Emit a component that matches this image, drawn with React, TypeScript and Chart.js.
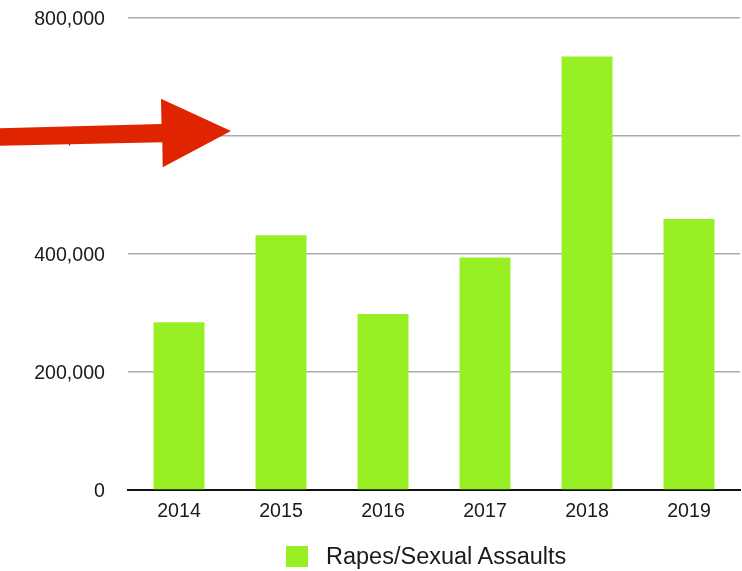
import React, { useEffect, useRef } from "react";
import { Chart, registerables } from "chart.js";

Chart.register(...registerables);

const categories = ["2014", "2015", "2016", "2017", "2018", "2019"];
const seriesLabel = "Rapes/Sexual Assaults";
const values = [284350, 431840, 298410, 393980, 734630, 459310];
const yTicks = [0, 200000, 400000, 600000, 800000];

const FONT = "'Liberation Sans', Arial, Helvetica, sans-serif";
const BAR_COLOR = "#98f024";

const arrowPlugin = {
  id: "redArrow",
  afterDraw(chart: any) {
    const ctx = chart.ctx;
    ctx.save();
    ctx.fillStyle = "#e02400";
    ctx.beginPath();
    ctx.moveTo(0, 128.3);
    ctx.lineTo(161.5, 124);
    ctx.lineTo(161, 98.7);
    ctx.lineTo(231, 131);
    ctx.lineTo(162.7, 167.3);
    ctx.lineTo(162.3, 142.3);
    ctx.lineTo(0, 145.7);
    ctx.closePath();
    ctx.fill();
    ctx.restore();
  },
};

export default function App() {
  const ref = useRef<HTMLCanvasElement | null>(null);
  useEffect(() => {
    if (!ref.current) return;
    const chart = new Chart(ref.current, {
      type: "bar",
      data: {
        labels: categories,
        datasets: [
          {
            label: seriesLabel,
            data: values,
            backgroundColor: BAR_COLOR,
            borderWidth: 0,
            categoryPercentage: 1,
            barPercentage: 0.5,
          },
        ],
      },
      options: {
        animation: false,
        responsive: false,
        maintainAspectRatio: false,
        layout: { padding: { top: 18, right: 2, left: 0, bottom: 41 } },
        plugins: {
          tooltip: { enabled: false },
          legend: { display: false },
        },
        scales: {
          x: {
            grid: { display: false, drawTicks: false },
            border: { display: true, color: "#111", width: 2 },
            ticks: {
              color: "#1a1a1a",
              font: { family: FONT, size: 19.6 },
              padding: 10,
              maxRotation: 0,
            },
            afterFit(scale: any) {
              scale.height = 40;
              scale.paddingLeft = 0;
              scale.paddingRight = 0;
            },
          },
          y: {
            min: 0,
            max: 800000,
            afterBuildTicks(scale: any) {
              scale.ticks = yTicks.map((v) => ({ value: v }));
            },
            grid: {
              color: (c: any) => (c.tick && c.tick.value === 0 ? "rgba(0,0,0,0)" : "#ababab"),
              lineWidth: 1.6,
              drawTicks: false,
            },
            border: { display: false },
            ticks: {
              color: "#1a1a1a",
              font: { family: FONT, size: 19.6 },
              padding: 23,
              labelOffset: 1.5,
              callback: (v: any) => Number(v).toLocaleString("en-US"),
            },
            afterFit(scale: any) {
              scale.width = 128;
              scale.paddingTop = 0;
              scale.paddingBottom = 0;
            },
          },
        },
      },
      plugins: [arrowPlugin],
    });
    return () => chart.destroy();
  }, []);
  return (
    <div style={{ position: "fixed", left: 0, top: 0, width: 742, height: 571, background: "#fff" }}>
      <canvas ref={ref} width={742} height={571} style={{ width: 742, height: 571, display: "block" }} />
      <div
        style={{
          position: "absolute",
          left: 286,
          top: 546,
          height: 21,
          display: "flex",
          alignItems: "center",
          fontFamily: FONT,
          fontSize: 23.5,
          color: "#1a1a1a",
          whiteSpace: "nowrap",
        }}
      >
        <span style={{ display: "inline-block", width: 22, height: 21, background: BAR_COLOR, marginRight: 18 }} />
        <span style={{ lineHeight: "21px" }}>{seriesLabel}</span>
      </div>
    </div>
  );
}
